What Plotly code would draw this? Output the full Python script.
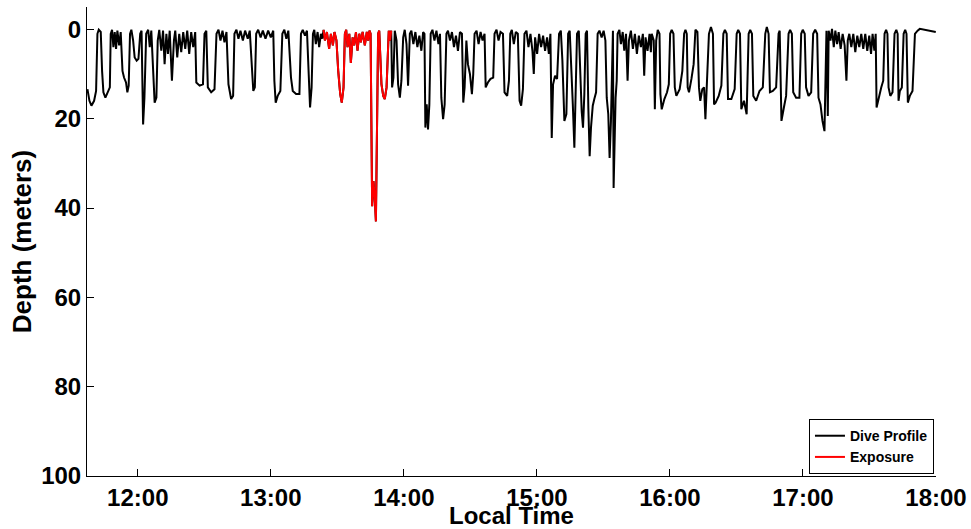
import pandas as pd
import plotly.graph_objects as go

# ---- Data: time in minutes after midnight, depth in metres ----
# 11:37 - 13:23 (before exposure)
seg1_time = [
    697.3, 698.2, 699.1, 700.3, 701.2, 701.8, 702.4, 703.3, 703.9, 704.5,
    705.4, 706.6, 707.4, 707.8, 708.4, 709.0, 709.6, 710.2, 710.8, 711.6,
    712.3, 713.1, 713.8, 714.7, 715.3, 715.9, 716.5, 717.1, 717.9, 718.6,
    719.5, 720.3, 721.1, 721.7, 722.4, 723.0, 723.8, 724.7, 725.4, 726.1,
    726.9, 727.6, 728.4, 729.0, 729.7, 730.6, 731.4, 732.1, 732.9, 733.6,
    734.4, 735.4, 736.3, 736.9, 737.8, 738.7, 739.6, 740.5, 741.4, 742.3,
    743.2, 744.1, 745.0, 745.9, 746.4, 747.9, 749.4, 750.1, 750.9, 751.6,
    753.1, 754.6, 755.5, 756.4, 757.3, 758.2, 759.1, 760.0, 760.9, 762.1,
    763.0, 763.6, 764.5, 765.4, 766.3, 767.4, 768.4, 769.6, 770.5, 771.4,
    772.1, 772.8, 773.4, 774.3, 775.4, 776.4, 777.6, 778.8, 780.0, 781.1,
    781.6, 782.2, 783.1, 784.3, 785.2, 786.1, 787.0, 787.9, 789.1, 789.9,
    791.4, 792.9, 793.6, 794.4, 795.4, 796.3, 797.1, 797.7, 798.4, 799.0,
    799.6, 800.3, 801.1, 801.8, 802.6, 803.2,
]
seg1_depth = [
    13.4, 16.0, 17.1, 16.0, 13.8, 1.0, 0.1, 0.6, 9.3, 14.1,
    15.3, 14.1, 13.0, 1.0, 0.1, 4.0, 0.6, 4.4, 0.3, 3.6,
    0.6, 9.3, 10.8, 11.9, 14.1, 12.6, 1.0, 0.1, 2.5, 6.3,
    7.0, 6.6, 1.0, 0.3, 21.3, 15.3, 1.0, 0.1, 4.0, 0.3,
    10.0, 16.4, 15.3, 2.5, 0.1, 4.8, 0.3, 7.8, 1.0, 5.5,
    0.3, 11.5, 2.5, 0.3, 6.3, 1.0, 5.1, 0.6, 4.4, 0.3,
    5.5, 0.6, 4.0, 0.6, 11.9, 12.6, 12.3, 1.0, 0.3, 13.0,
    14.1, 13.4, 1.0, 0.1, 2.5, 0.3, 2.9, 0.6, 12.3, 15.6,
    14.9, 1.0, 0.1, 2.1, 0.3, 2.5, 0.3, 2.1, 0.3, 9.3,
    13.8, 13.0, 1.0, 0.1, 1.8, 0.3, 2.1, 0.3, 1.8, 0.3,
    11.5, 16.4, 14.9, 13.8, 1.0, 0.1, 2.1, 0.3, 10.8, 13.8,
    14.5, 14.5, 1.0, 0.1, 1.4, 0.3, 11.5, 17.5, 13.0, 1.0,
    0.1, 3.3, 0.6, 4.0, 1.0, 2.1,
]

# 13:23 - 13:54 (exposure period)
exposure_time = [
    803.8, 804.4, 805.3, 806.3, 807.1, 808.0, 808.7, 809.6, 810.4, 811.3,
    812.0, 812.8, 813.4, 814.0, 814.6, 815.4, 816.1, 816.9, 817.6, 818.4,
    819.1, 819.9, 820.6, 821.4, 822.4, 823.3, 823.9, 824.5, 825.0, 825.4,
    825.7, 826.3, 826.8, 827.4, 827.7, 828.0, 828.4, 828.9, 829.3, 829.9,
    830.7, 831.4, 832.2, 832.8, 833.2, 833.8, 834.3,
]
exposure_depth = [
    0.1, 2.5, 0.6, 4.4, 1.0, 3.6, 0.6, 2.5, 9.3, 14.5,
    16.4, 13.0, 1.0, 0.1, 4.0, 1.0, 7.5, 1.8, 3.6, 0.6,
    4.8, 1.0, 2.9, 0.6, 3.6, 0.6, 2.5, 0.3, 1.0, 31.8,
    39.6, 34.0, 37.0, 43.0, 33.3, 20.5, 1.0, 0.3, 6.3, 12.3,
    14.9, 15.6, 13.0, 1.8, 0.3, 2.5, 0.3,
]

# 13:54 - 15:51
seg3_time = [
    834.7, 835.3, 835.9, 836.7, 837.4, 838.2, 838.9, 839.7, 840.4, 841.2,
    841.9, 842.7, 843.4, 844.3, 845.2, 846.1, 847.0, 847.9, 848.7, 849.3,
    849.7, 850.3, 850.9, 851.5, 852.1, 852.9, 853.8, 854.7, 855.6, 856.3,
    856.9, 857.7, 858.4, 859.2, 859.9, 860.8, 861.7, 862.6, 863.5, 864.4,
    865.3, 866.2, 866.8, 867.4, 868.2, 868.9, 869.8, 870.7, 871.3, 871.9,
    872.8, 873.7, 874.6, 875.5, 876.4, 876.9, 877.9, 879.1, 880.3, 880.9,
    881.8, 882.7, 883.6, 884.7, 885.4, 886.6, 887.4, 888.0, 888.7, 889.6,
    890.5, 891.4, 892.2, 892.9, 893.7, 894.4, 895.3, 896.2, 897.1, 898.0,
    898.6, 899.2, 900.1, 901.0, 901.9, 902.8, 903.7, 904.6, 905.4, 906.1,
    906.7, 907.3, 908.2, 909.1, 910.0, 910.8, 911.5, 912.4, 913.3, 914.1,
    914.8, 915.4, 916.2, 916.9, 917.5, 918.1, 918.9, 919.6, 920.2, 920.8,
    921.4, 922.0, 922.6, 923.2, 923.8, 924.4, 925.2, 925.9, 926.7, 927.4,
    928.2, 929.2, 930.1, 930.9, 931.5, 932.2, 932.8, 933.4, 934.0, 934.3,
    934.6, 935.1, 935.5, 936.0, 936.4, 937.2, 937.9, 938.7, 939.4, 940.2,
    940.9, 941.5, 942.4, 943.3, 944.2, 945.1, 946.0, 946.9, 947.8, 948.4,
    949.0, 949.9, 950.8, 951.4,
]
seg3_depth = [
    13.0, 10.8, 0.3, 2.5, 12.3, 15.3, 11.5, 1.8, 0.1, 3.3,
    12.6, 1.0, 0.3, 3.3, 0.6, 4.0, 1.4, 4.8, 0.6, 1.0,
    22.0, 16.8, 22.4, 16.8, 1.0, 0.1, 2.5, 0.3, 3.3, 1.0,
    15.3, 20.1, 16.8, 1.0, 0.3, 2.5, 0.6, 4.0, 1.4, 4.8,
    0.6, 1.0, 16.4, 13.0, 2.5, 7.8, 10.0, 14.5, 10.0, 1.0,
    0.3, 3.3, 0.6, 2.5, 1.0, 13.0, 11.9, 11.1, 10.8, 1.0,
    0.1, 2.5, 0.6, 1.0, 14.1, 14.9, 11.5, 1.0, 0.1, 3.3,
    0.6, 1.0, 16.0, 17.1, 13.4, 1.0, 0.3, 4.0, 1.0, 4.8,
    10.0, 1.8, 5.5, 1.0, 4.0, 1.4, 4.8, 1.8, 5.5, 1.0,
    24.3, 12.3, 10.4, 11.1, 1.0, 0.3, 7.0, 20.5, 19.0, 1.0,
    0.3, 9.3, 16.8, 26.5, 13.0, 1.0, 0.3, 13.0, 18.3, 22.0,
    14.5, 1.0, 0.3, 17.5, 28.4, 22.0, 17.1, 15.6, 14.1, 1.0,
    0.3, 1.8, 0.3, 2.5, 15.3, 19.0, 28.8, 20.5, 1.0, 0.3,
    35.5, 20.5, 15.3, 11.5, 1.0, 0.1, 3.3, 0.6, 4.8, 1.0,
    11.5, 2.5, 0.3, 4.4, 1.0, 5.5, 1.4, 4.0, 1.0, 10.4,
    1.8, 4.8, 1.0, 5.1,
]

# 15:51 - 18:00
seg4_time = [
    951.8, 952.7, 953.2, 953.8, 954.5, 955.3, 955.7, 956.3, 957.5, 958.7,
    959.5, 960.1, 960.8, 961.6, 962.2, 962.9, 964.4, 965.6, 966.4, 967.0,
    967.6, 968.0, 968.6, 969.7, 970.7, 971.5, 972.4, 973.1, 973.7, 974.6,
    975.4, 976.0, 976.7, 977.6, 978.5, 979.4, 979.9, 980.6, 982.0, 983.2,
    984.1, 984.8, 985.6, 986.2, 987.7, 989.2, 990.1, 990.8, 991.6, 992.2,
    993.4, 994.6, 995.5, 996.2, 997.0, 997.6, 998.9, 1000.4, 1001.9, 1003.0,
    1003.7, 1004.5, 1005.1, 1006.4, 1007.9, 1009.0, 1009.5, 1010.3, 1011.4, 1012.4,
    1013.5, 1014.2, 1015.0, 1015.6, 1016.9, 1018.4, 1019.2, 1019.9, 1020.8, 1021.4,
    1022.5, 1023.7, 1024.6, 1025.5, 1026.4, 1027.0, 1027.9, 1028.8, 1029.7, 1030.1,
    1030.6, 1031.2, 1031.6, 1032.4, 1033.1, 1033.9, 1034.6, 1035.4, 1036.1, 1037.0,
    1037.9, 1038.8, 1039.6, 1040.2, 1040.9, 1041.8, 1042.7, 1043.6, 1044.5, 1045.4,
    1046.3, 1047.2, 1048.1, 1049.0, 1049.9, 1050.7, 1051.4, 1052.2, 1052.8, 1053.2,
    1054.1, 1055.3, 1056.2, 1056.8, 1057.5, 1058.1, 1058.6, 1059.4, 1060.4, 1061.3,
    1062.1, 1062.7, 1063.1, 1063.7, 1064.6, 1065.4, 1066.1, 1066.7, 1067.3, 1068.2,
    1069.4, 1070.5, 1071.7, 1072.7, 1079.9,
]
seg4_depth = [
    1.0, 2.5, 17.9, 2.5, 0.1, 1.0, 14.5, 17.9, 15.6, 14.1,
    12.3, 1.0, 0.1, 1.0, 13.0, 14.9, 13.4, 9.3, 1.0, 0.1,
    1.0, 13.0, 14.1, 11.1, 7.8, 0.1, 0.6, 13.0, 16.0, 13.4,
    13.0, 20.1, 13.0, 1.0, -0.5, 1.0, 16.8, 16.4, 14.9, 12.6,
    1.0, 0.1, 1.0, 15.6, 15.6, 13.4, 1.0, 0.1, 1.0, 17.9,
    16.0, 19.0, 1.0, 0.1, 1.0, 14.9, 16.0, 13.8, 13.0, 1.0,
    -0.5, 1.0, 14.1, 13.8, 13.0, 1.0, 0.3, 20.5, 17.5, 14.9,
    1.0, 0.1, 1.0, 14.1, 15.3, 15.3, 1.0, 0.1, 1.0, 13.0,
    14.9, 14.1, 1.0, 0.1, 1.0, 15.3, 16.8, 20.5, 22.8, 14.5,
    0.3, 19.4, 0.3, 2.5, -0.1, 4.0, 0.3, 3.3, 0.6, 4.4,
    1.0, 3.6, 11.5, 2.5, 1.0, 4.0, 1.0, 5.1, 1.4, 4.0,
    1.0, 4.4, 1.0, 4.8, 1.4, 5.5, 1.0, 4.8, 1.0, 17.5,
    15.3, 13.0, 11.5, 1.0, 0.1, 1.0, 13.0, 14.9, 14.1, 1.0,
    0.1, 1.0, 16.0, 13.8, 13.0, 1.0, 0.1, 1.0, 16.4, 14.9,
    13.8, 1.0, 0.3, -0.1, 0.6,
]

hour_ticks = [12, 13, 14, 15, 16, 17, 18]
hour_labels = ["12:00", "13:00", "14:00", "15:00", "16:00", "17:00", "18:00"]
depth_ticks = [0, 20, 40, 60, 80, 100]
x_start_min = 697.1
x_end_min = 1080.0
depth_range = [100, -5]

BASE = pd.Timestamp("2000-01-01")


def to_time(minutes):
    return BASE + pd.to_timedelta(pd.Series(minutes, dtype=float), unit="min")


profile_time = seg1_time + exposure_time + seg3_time + seg4_time
profile_depth = seg1_depth + exposure_depth + seg3_depth + seg4_depth

fig = go.Figure()
fig.add_trace(go.Scatter(
    x=to_time(profile_time), y=profile_depth, mode="lines",
    line=dict(color="black", width=2), name="Dive Profile",
))
fig.add_trace(go.Scatter(
    x=to_time(exposure_time), y=exposure_depth, mode="lines",
    line=dict(color="#ff0000", width=2), name="Exposure",
))

FONT = "Liberation Sans, Arial, sans-serif"
fig.update_layout(
    width=971, height=529,
    margin=dict(l=87, r=35, t=7, b=53),
    paper_bgcolor="white", plot_bgcolor="white",
    font=dict(family=FONT, size=24, color="black", weight="bold"),
    showlegend=True,
    legend=dict(
        x=0.9976, y=0.004, xanchor="right", yanchor="bottom",
        bgcolor="white", bordercolor="black", borderwidth=1,
        font=dict(family=FONT, size=14, color="black", weight="bold"),
        tracegroupgap=0, itemwidth=30,
    ),
)
fig.update_xaxes(
    type="date", automargin=False,
    range=list(to_time([x_start_min, x_end_min])),
    tickmode="array",
    tickvals=list(to_time([h * 60 for h in hour_ticks])),
    ticktext=hour_labels,
    ticks="inside", ticklen=7, tickwidth=1, tickcolor="black",
    showline=True, linecolor="black", linewidth=1,
    showgrid=False, zeroline=False,
    tickfont=dict(size=24),
    title=dict(text="Local Time", font=dict(size=24), standoff=4),
)
fig.update_yaxes(
    automargin=False,
    range=depth_range,
    tickmode="array", tickvals=depth_ticks,
    ticks="inside", ticklen=7, tickwidth=1, tickcolor="black",
    showline=True, linecolor="black", linewidth=1,
    showgrid=False, zeroline=False,
    tickfont=dict(size=24),
    title=dict(text="Depth (meters)", font=dict(size=26), standoff=2),
)

fig.write_html(
    "out.html",
    config={"displayModeBar": False},
    post_script="document.body.style.margin='0px';",
)
